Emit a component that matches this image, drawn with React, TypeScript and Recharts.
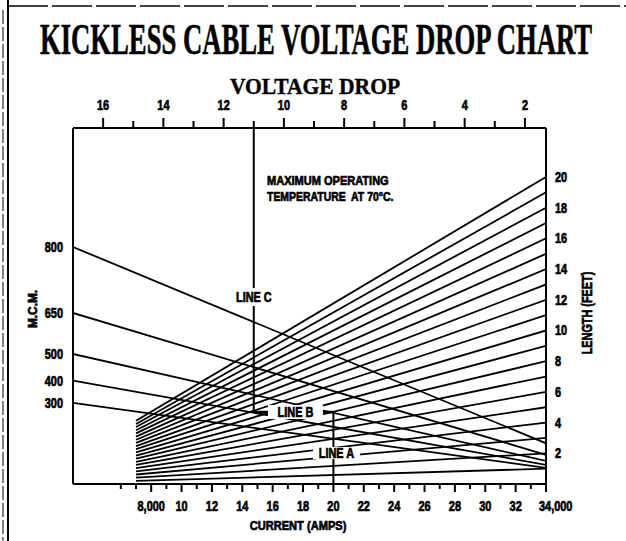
import React from 'react';
import { ComposedChart, Line, XAxis, YAxis, Scatter } from 'recharts';

// ---------- data ----------
// Length (feet) fan lines: start at 7,000 A, end at 34,000 A
const lengthFeet = [1, 2, 3, 4, 5, 6, 7, 8, 9, 10, 11, 12, 13, 14, 15, 16, 17, 18, 19, 20];
const lengthStartLevel = [0.2, 0.41, 0.62, 0.82, 1.03, 1.24, 1.44, 1.65, 1.85, 2.06, 2.27, 2.47, 2.68, 2.88, 3.09, 3.3, 3.5, 3.71, 3.91, 4.12];
const lengthEndLevel = [1, 2, 3, 4, 5, 6, 7, 8, 9, 10, 11, 12, 13, 14, 15, 16, 17, 18, 19, 20];
const fanStartAmps = 7;
const fanEndAmps = 34;

// M.C.M. lines: from left edge to right edge
const mcmLabels = ['800', '650', '500', '400', '300'];
const mcmStartLevel = [15.44, 11.14, 8.47, 6.74, 5.28];
const mcmEndLevel = [2.65, 1.9, 1.5, 1.25, 1.05];
const mcmStartAmps = 2.85;
const mcmEndAmps = 34;

// Axis ticks
const ampTicks = [6, 7, 8, 9, 10, 11, 12, 13, 14, 15, 16, 17, 18, 19, 20, 21, 22, 23, 24, 25, 26, 27, 28, 29, 30, 31, 32, 33, 34];
const ampMajor = [8, 10, 12, 14, 16, 18, 20, 22, 24, 26, 28, 30, 32, 34];
const ampMajorLabels = ['8,000', '10', '12', '14', '16', '18', '20', '22', '24', '26', '28', '30', '32', '34,000'];
const voltTicks = [2, 3, 4, 5, 6, 7, 8, 9, 10, 11, 12, 13, 14, 15, 16];
const voltMajor = [2, 4, 6, 8, 10, 12, 14, 16];
const lengthTicks = [2, 4, 6, 8, 10, 12, 14, 16, 18, 20];

// Worked example path (LINE C -> LINE B -> LINE A)
const lineCVolts = 11;
const lineCTopLevel = 23.19;
const lineBLevel = 4.69;
const lineBStartAmps = 14.76;
const lineAAmps = 20;

const annotationTexts = ['LINE C', 'LINE B', 'LINE A'];
const annotationAmps = [14.76, 17.5, 20.2];
const annotationLevels = [12.18, 4.69, 2.02];

// Domains
const ampDomain = [2.85, 34];
const voltDomain = [1.3, 17];
const levelDomain = [0, 23.19];

// ---------- styles ----------
const SANS = "'Liberation Sans', Arimo, 'DejaVu Sans', sans-serif";
const SERIF = "'Liberation Serif', 'DejaVu Serif', serif";
const INK = '#000';
const LINE_W = 1.8;
const NARROW = 0.78;
const boxSize: Record<string, { w: number; h: number }> = {
  'LINE C': { w: 40, h: 18 },
  'LINE B': { w: 55, h: 14 },
  'LINE A': { w: 47, h: 12 },
};

const fanSeries = lengthFeet.map((f, i) => ({
  name: `L${f}`,
  data: [
    { x: fanStartAmps, y: lengthStartLevel[i] },
    { x: fanEndAmps, y: lengthEndLevel[i] },
  ],
}));

const mcmSeries = mcmLabels.map((m, i) => ({
  name: `M${m}`,
  data: [
    { x: mcmStartAmps, y: mcmStartLevel[i] },
    { x: mcmEndAmps, y: mcmEndLevel[i] },
  ],
}));

const lineCData = [
  { v: lineCVolts, y: lineCTopLevel },
  { v: lineCVolts, y: lineBLevel },
];
const lineBData = [
  { x: lineBStartAmps, y: lineBLevel },
  { x: lineAAmps, y: lineBLevel },
];
const lineADropData = [
  { x: lineAAmps, y: lineBLevel },
  { x: lineAAmps, y: 0 },
];
const annotationData = annotationTexts.map((t, i) => ({ x: annotationAmps[i], y: annotationLevels[i], label: t }));

type CTProps = {
  x: number;
  y: number;
  sx?: number;
  anchor?: 'start' | 'middle' | 'end';
  size?: number;
  family?: string;
  rotate?: number;
  length?: number;
  heavy?: number;
  children: React.ReactNode;
};

const CondText = ({ x, y, sx = NARROW, anchor = 'middle', size = 14, family = SANS, rotate = 0, length, heavy = 0.7, children }: CTProps) => (
  <text
    transform={`translate(${x} ${y}) rotate(${rotate}) scale(${sx} 1)`}
    x={0}
    y={0}
    textAnchor={anchor}
    fontFamily={family}
    fontWeight="bold"
    fontSize={size}
    fill={INK}
    stroke={heavy > 0 ? INK : 'none'}
    strokeWidth={heavy}
    textLength={length}
    lengthAdjust={length ? 'spacingAndGlyphs' : undefined}
    style={{ whiteSpace: 'pre' }}
  >
    {children}
  </text>
);

const AmpTick = (props: any) => {
  const { x, y, payload } = props;
  const v = payload.value;
  const mi = ampMajor.indexOf(v);
  const major = mi >= 0;
  const isLast = v === 34;
  return (
    <g>
      <line x1={x} x2={x} y1={y} y2={y + (major ? 8 : 5)} stroke={INK} strokeWidth={2} />
      {major && (
        <CondText x={isLast ? x - 7 : x} y={y + 27} anchor={isLast ? 'start' : 'middle'}>
          {ampMajorLabels[mi]}
        </CondText>
      )}
    </g>
  );
};

const VoltTick = (props: any) => {
  const { x, y, payload } = props;
  const v = payload.value;
  const major = voltMajor.indexOf(v) >= 0;
  return (
    <g>
      <line x1={x} x2={x} y1={y} y2={y - (major ? 10 : 7)} stroke={INK} strokeWidth={2} />
      {major && (
        <CondText x={x} y={y - 18}>
          {String(v)}
        </CondText>
      )}
    </g>
  );
};

const LengthTick = (props: any) => {
  const { x, y, payload } = props;
  return (
    <CondText x={x + 9} y={y + 5} anchor="start">
      {String(payload.value)}
    </CondText>
  );
};

const McmTick = (props: any) => {
  const { x, y, payload } = props;
  const idx = mcmStartLevel.indexOf(payload.value);
  return (
    <CondText x={x - 10} y={y + 5} anchor="end">
      {idx >= 0 ? mcmLabels[idx] : ''}
    </CondText>
  );
};

const AnnotationShape = (props: any) => {
  const { cx, cy, payload } = props;
  const s = boxSize[payload.label] || { w: 40, h: 14 };
  return (
    <g>
      <rect x={cx - s.w / 2} y={cy - s.h / 2} width={s.w} height={s.h} fill="#fff" />
      <CondText x={cx} y={cy + 5} size={14}>
        {payload.label}
      </CondText>
    </g>
  );
};

export default function App() {
  return (
    <div style={{ position: 'absolute', left: 0, top: 0, width: 626, height: 541, background: '#fff' }}>
      <ComposedChart width={626} height={541} margin={{ top: 98, right: 20, bottom: 17, left: 13 }}>
        <XAxis
          xAxisId="amp"
          orientation="bottom"
          type="number"
          dataKey="x"
          domain={ampDomain}
          allowDataOverflow
          ticks={ampTicks}
          interval={0}
          tickSize={0}
          tickMargin={0}
          tickLine={false}
          tick={AmpTick}
          axisLine={{ stroke: INK, strokeWidth: 2 }}
          height={40}
        />
        <XAxis
          xAxisId="volt"
          orientation="top"
          type="number"
          dataKey="v"
          domain={voltDomain}
          reversed
          allowDataOverflow
          ticks={voltTicks}
          interval={0}
          tickSize={0}
          tickMargin={0}
          tickLine={false}
          tick={VoltTick}
          axisLine={{ stroke: INK, strokeWidth: 2 }}
          height={30}
        />
        <YAxis
          yAxisId="mcm"
          orientation="left"
          type="number"
          domain={levelDomain}
          allowDataOverflow
          ticks={mcmStartLevel}
          interval={0}
          tickSize={0}
          tickMargin={0}
          tickLine={false}
          tick={McmTick}
          axisLine={{ stroke: INK, strokeWidth: 2 }}
          width={60}
        />
        <YAxis
          yAxisId="len"
          orientation="right"
          type="number"
          domain={levelDomain}
          allowDataOverflow
          ticks={lengthTicks}
          interval={0}
          tickSize={0}
          tickMargin={0}
          tickLine={false}
          tick={LengthTick}
          axisLine={{ stroke: INK, strokeWidth: 2 }}
          width={60}
        />
        {fanSeries.map((s) => (
          <Line
            key={s.name}
            xAxisId="amp"
            yAxisId="len"
            data={s.data}
            dataKey="y"
            stroke={INK}
            strokeWidth={LINE_W}
            dot={false}
            activeDot={false}
            isAnimationActive={false}
          />
        ))}
        {mcmSeries.map((s) => (
          <Line
            key={s.name}
            xAxisId="amp"
            yAxisId="mcm"
            data={s.data}
            dataKey="y"
            stroke={INK}
            strokeWidth={LINE_W}
            dot={false}
            activeDot={false}
            isAnimationActive={false}
          />
        ))}
        <Line xAxisId="volt" yAxisId="len" data={lineCData} dataKey="y" stroke={INK} strokeWidth={2} dot={false} activeDot={false} isAnimationActive={false} />
        <Line xAxisId="amp" yAxisId="len" data={lineBData} dataKey="y" stroke={INK} strokeWidth={2.5} dot={false} activeDot={false} isAnimationActive={false} />
        <Line xAxisId="amp" yAxisId="len" data={lineADropData} dataKey="y" stroke={INK} strokeWidth={2} dot={false} activeDot={false} isAnimationActive={false} />
        <Scatter xAxisId="amp" yAxisId="len" data={annotationData} dataKey="y" shape={AnnotationShape} isAnimationActive={false} />
      </ComposedChart>
      <svg width={626} height={541} style={{ position: 'absolute', left: 0, top: 0, pointerEvents: 'none' }}>
        <line x1={8} x2={8} y1={0} y2={541} stroke={INK} strokeWidth={2} />
        <line x1={3} x2={3} y1={10} y2={541} stroke={INK} strokeWidth={1} strokeDasharray="14 3" />
        <line x1={8} x2={626} y1={6} y2={6} stroke={INK} strokeWidth={1.5} strokeDasharray="40 4" />
        <CondText x={316} y={54} sx={0.6} size={44} family={SERIF} length={920} heavy={0.6}>
          KICKLESS CABLE VOLTAGE DROP CHART
        </CondText>
        <CondText x={315} y={94} sx={0.75} size={24} family={SERIF} length={227} heavy={0.4}>
          VOLTAGE DROP
        </CondText>
        <CondText x={298} y={530} size={13} length={124}>
          CURRENT (AMPS)
        </CondText>
        <CondText x={36.5} y={309} rotate={-90} size={13} length={49}>
          M.C.M.
        </CondText>
        <CondText x={592} y={313} rotate={-90} size={14} length={106}>
          LENGTH (FEET)
        </CondText>
        <CondText x={267} y={185} anchor="start" size={13} length={156}>
          MAXIMUM OPERATING
        </CondText>
        <CondText x={267} y={201} anchor="start" size={13} length={162}>
          {'TEMPERATURE  AT 70°C.'}
        </CondText>
      </svg>
    </div>
  );
}
